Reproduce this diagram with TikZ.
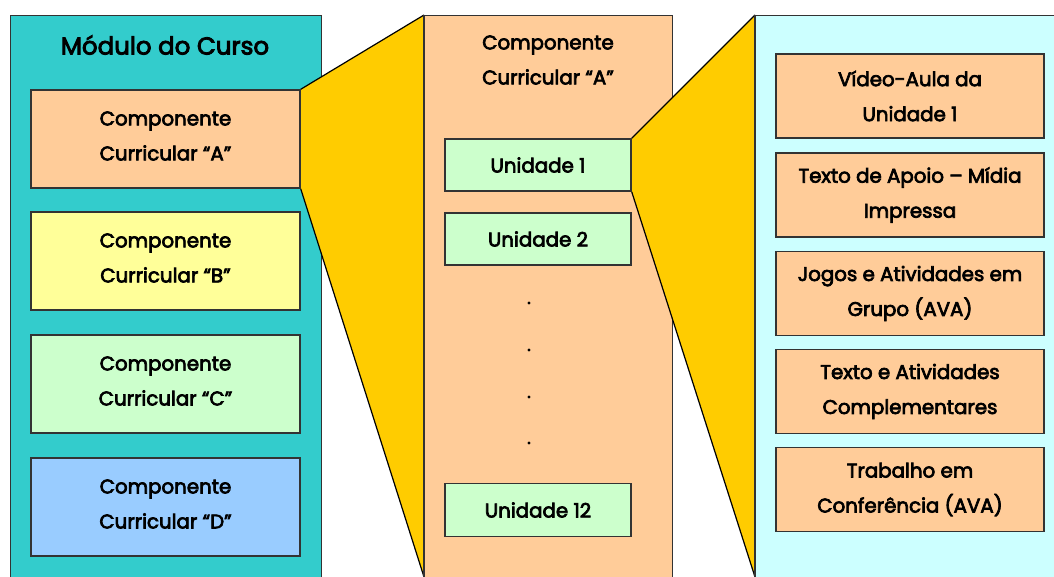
\documentclass[tikz,border=0pt]{standalone}
\usepackage{fontspec}
\setmainfont{Poppins}[FakeBold=3.5]
\definecolor{tealC}{HTML}{33CCCC}
\definecolor{orangeC}{HTML}{FFCC99}
\definecolor{yellowC}{HTML}{FFFF99}
\definecolor{greenC}{HTML}{CCFFCC}
\definecolor{blueC}{HTML}{99CCFF}
\definecolor{cyanC}{HTML}{CCFFFF}
\definecolor{goldC}{HTML}{FFCC00}
\definecolor{lineC}{HTML}{333333}
\begin{document}
\begin{tikzpicture}[x=1pt,y=-1pt,
  box/.style={draw=lineC, line width=1.4pt, align=center, inner sep=0pt, text=black,
    font=\fontsize{19.8}{35}\selectfont},
  panel/.style={draw=lineC, line width=1.4pt, inner sep=0pt, anchor=north west},
  lbl/.style={align=center, inner sep=0pt, text=black, font=\fontsize{19.8}{35}\selectfont}]
\useasboundingbox (0,0) rectangle (1054,577);
\clip (0,0) rectangle (1054,577);
\fill[white] (0,0) rectangle (1054,577);
% panels
\node[panel, fill=tealC, minimum width=311pt, minimum height=620pt] (mod) at (10,15) {};
\node[panel, fill=orangeC, minimum width=248pt, minimum height=620pt] (mid) at (424,15) {};
\node[panel, fill=cyanC, minimum width=320pt, minimum height=620pt] (rgt) at (755,15) {};
% boxes
\node[box, fill=orangeC, minimum width=269pt, minimum height=98pt] (ca) at (165.5,139) {};
\node[box, fill=yellowC, minimum width=269pt, minimum height=98pt] (cb) at (165.5,261) {};
\node[box, fill=greenC, minimum width=269pt, minimum height=98pt] (cc) at (165.5,384) {};
\node[box, fill=blueC, minimum width=269pt, minimum height=98pt] (cd) at (165.5,507) {};
\node[box, fill=greenC, minimum width=186pt, minimum height=52pt] (u1) at (538,165) {};
% wedges
\coordinate (w1b) at (424,577);
\coordinate (w2b) at (755,577);
\fill[goldC] (ca.north east) -- (mid.north west) -- (w1b) -- (ca.south east) -- cycle;
\draw[black, line width=1.2pt] (ca.north east) -- (mid.north west);
\draw[black, line width=1.2pt] (ca.south east) -- (w1b);
\fill[goldC] (u1.north east) -- (rgt.north west) -- (w2b) -- (u1.south east) -- cycle;
\draw[black, line width=1.2pt] (u1.north east) -- (rgt.north west);
\draw[black, line width=1.2pt] (u1.south east) -- (w2b);
\draw[lineC, line width=1.4pt] (mid.north west) -- (w1b);
\draw[lineC, line width=1.4pt] (rgt.north west) -- (w2b);
% redraw boxes on top
\node[box, fill=orangeC, minimum width=269pt, minimum height=98pt] (ca2) at (ca) {};
\node[box, fill=greenC, minimum width=186pt, minimum height=52pt] (u1b) at (u1) {};
\node[box, fill=greenC, minimum width=186pt, minimum height=52pt] (u2) at (538,239) {};
\node[box, fill=greenC, minimum width=186pt, minimum height=53pt] (u12) at (538,510) {};
% box texts
\node[lbl] (ta) at (165.5,136) {Componente\\Curricular “A”};
\node[lbl] (tb) at (165.5,258) {Componente\\Curricular “B”};
\node[lbl] (tc) at (165.5,381) {Componente\\Curricular “C”};
\node[lbl] (td) at (165.5,504) {Componente\\Curricular “D”};
\node[lbl] (tu1) at (538,165) {Unidade 1};
\node[lbl] (tu2) at (538,239) {Unidade 2};
\node[lbl] (tu12) at (538,510) {Unidade 12};
% titles
\node[lbl, font=\fontsize{24.5}{30}\selectfont] (t1) at (165,45) {Módulo do Curso};
\node[lbl] (t2) at (548,60) {Componente\\Curricular “A”};
% dots
\foreach \yy [count=\i] in {303,350,397,443} \fill[black] (529,\yy) circle (1.6pt) coordinate (d\i);
% right boxes
\node[box, fill=orangeC, minimum width=268pt, minimum height=84pt] (r1) at (910,96) {Vídeo-Aula da\\Unidade 1};
\node[box, fill=orangeC, minimum width=268pt, minimum height=84pt] (r2) at (910,195) {Texto de Apoio – Mídia\\Impressa};
\node[box, fill=orangeC, minimum width=268pt, minimum height=84pt] (r3) at (910,293.5) {Jogos e Atividades em\\Grupo (AVA)};
\node[box, fill=orangeC, minimum width=268pt, minimum height=84pt] (r4) at (910,391.5) {Texto e Atividades\\Complementares};
\node[box, fill=orangeC, minimum width=268pt, minimum height=84pt] (r5) at (910,489.5) {Trabalho em\\Conferência (AVA)};
\end{tikzpicture}
\end{document}
